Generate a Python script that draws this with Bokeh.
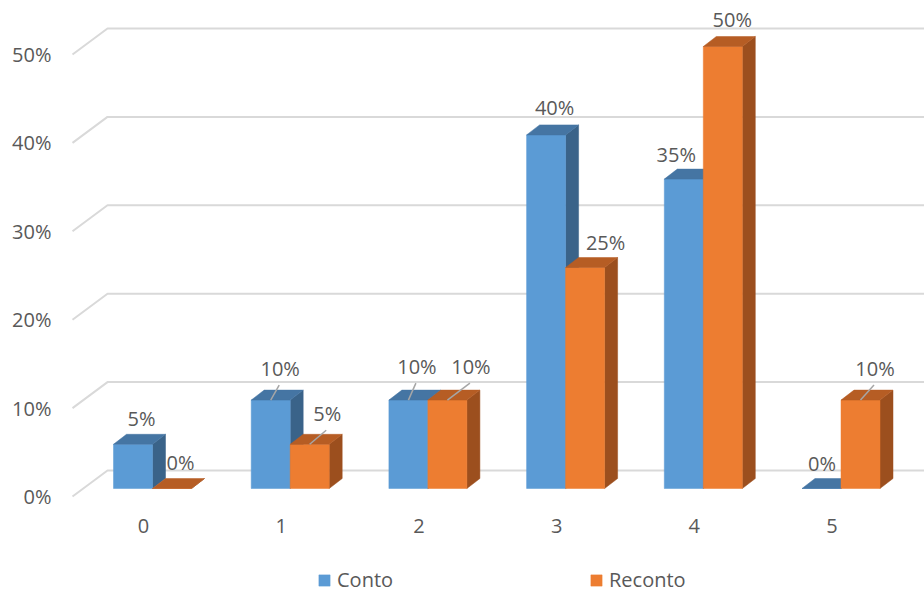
from bokeh.plotting import figure
from bokeh.models import Range1d, ColumnDataSource, Legend, LegendItem
from bokeh.core.properties import value
from bokeh.embed import file_html
from bokeh.resources import INLINE

# ---------------- data ----------------
categories = ["0", "1", "2", "3", "4", "5"]
conto = [0.05, 0.10, 0.10, 0.40, 0.35, 0.00]
reconto = [0.00, 0.05, 0.10, 0.25, 0.50, 0.10]
y_ticks = [0.0, 0.1, 0.2, 0.3, 0.4, 0.5]
y_tick_labels = ["0%", "10%", "20%", "30%", "40%", "50%"]
series_names = ["Conto", "Reconto"]

# ---------------- layout / style ----------------
W, H = 924, 593
PXX = 137.7          # pixels per category
PXY = 884.0          # pixels per unit (100%)
X0PX, Y0PX = 152.0, 488.0
FONT = "Open Sans"
TXT = "#595959"
BAR_W = 39 / PXX
DX, DY = 13 / PXX, 10 / PXY

front_cols = ["#5B9BD5", "#ED7D31"]
top_cols = ["#4575A3", "#B65D24"]
side_cols = ["#3A6389", "#9C4F1E"]

# label nudges in pixels (dx right, dy down) per series / category, and leader flags
nudges = [
    [(0, 0), (1, -6), (0, -8), (0, -1), (-16, 1), (-8, 1)],
    [(0, 0), (9, -5), (15, -8), (12, 1), (1, -1), (6, -6)],
]
leaders = [
    [False, True, True, False, False, False],
    [False, True, True, False, False, True],
]

p = figure(width=W, height=H,
           x_range=Range1d(-X0PX / PXX, (W - X0PX) / PXX),
           y_range=Range1d(-(H - Y0PX) / PXY, Y0PX / PXY),
           x_axis_type=None, y_axis_type=None,
           toolbar_location=None, output_backend="svg",
           min_border=0, outline_line_color=None)
p.background_fill_color = "white"

# back wall gridlines with left side-wall diagonals
wx_front = (72 - X0PX) / PXX
wx_back = (107 - X0PX) / PXX
x_end = (W - X0PX) / PXX + 1
gxs, gys = [], []
for t in y_ticks:
    gxs.append([wx_front, wx_back, x_end])
    gys.append([t - 8 / PXY, t + 18 / PXY, t + 18 / PXY])
p.multi_line(gxs, gys, line_color="#D9D9D9", line_width=2)

# y tick labels
p.text(x=[(51 - X0PX) / PXX] * len(y_ticks), y=[t - 8 / PXY for t in y_ticks],
       text=y_tick_labels, text_align="right", text_baseline="middle",
       text_font=value(FONT), text_font_size="20px", text_color=TXT)

# category labels
p.text(x=[i - 9 / PXX for i in range(len(categories))],
       y=[-37 / PXY] * len(categories), text=categories,
       text_align="center", text_baseline="middle",
       text_font=value(FONT), text_font_size="20px", text_color=TXT)

front_renderers = []
for s, vals in enumerate([conto, reconto]):
    lefts = [i - BAR_W + s * BAR_W for i in range(len(vals))]
    rights = [l + BAR_W for l in lefts]
    # side faces
    sx = [[r, r + DX, r + DX, r] for r in rights]
    sy = [[0, DY, v + DY, v] for v in vals]
    p.patches(sx, sy, fill_color=side_cols[s], line_color=side_cols[s], line_width=0.5)
    # front faces
    fr = p.quad(left=lefts, right=rights, bottom=[0] * len(vals), top=vals,
                fill_color=front_cols[s], line_color=front_cols[s], line_width=0.5)
    front_renderers.append(fr)
    # top faces
    tx = [[l, r, r + DX, l + DX] for l, r in zip(lefts, rights)]
    ty = [[v, v, v + DY, v + DY] for v in vals]
    p.patches(tx, ty, fill_color=top_cols[s], line_color=top_cols[s], line_width=0.5)

    # data labels
    lx, ly, lt = [], [], []
    ldx, ldy = [], []
    for i, (l, v) in enumerate(zip(lefts, vals)):
        nx, ny = nudges[s][i]
        x = l + BAR_W / 2 + DX / 2 + (2 + nx) / PXX
        y = v + DY + (16 - ny) / PXY
        lx.append(x); ly.append(y); lt.append(f"{round(v * 100)}%")
        if leaders[s][i]:
            ldx.append([l + BAR_W / 2, x - 1 / PXX])
            ldy.append([v, y - 17 / PXY])
    if ldx:
        p.multi_line(ldx, ldy, line_color="#A6A6A6", line_width=1.5)
    p.text(x=lx, y=ly, text=lt, text_align="center", text_baseline="middle",
           text_font=value(FONT), text_font_size="20px", text_color=TXT)

legend = Legend(items=[LegendItem(label=n, renderers=[r]) for n, r in zip(series_names, front_renderers)],
                orientation="horizontal", location=(317, 0),
                glyph_width=14, glyph_height=14, label_standoff=6,
                label_width=200, spacing=52, padding=0, margin=0,
                border_line_color=None, background_fill_alpha=0,
                label_text_font=FONT, label_text_font_size="20px",
                label_text_color=TXT)
p.add_layout(legend)

open("out.html", "w").write(file_html(p, INLINE))
